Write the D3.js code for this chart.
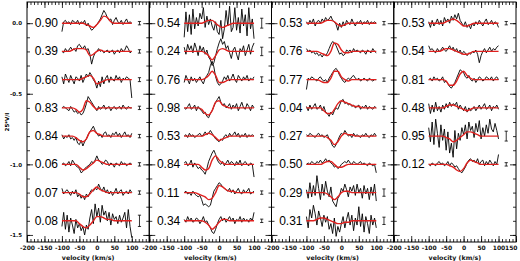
<!DOCTYPE html>
<html>
<head>
<meta charset="utf-8">
<script src="https://cdn.jsdelivr.net/npm/d3@7"></script>
<style>
  body { margin: 0; background: #fff; }
  svg { display: block; }
</style>
</head>
<body>
<svg id="chart" width="520" height="261"></svg>
<script>
// velocities of the observed profiles and of the model fits (km/s)
const vel = d3.range(-100, 101, 5);
const fitVel = d3.range(-100, 101, 10);

// profile values in units of 0.01 (25*V/I), one row per line
const labels1 = ["0.90", "0.39", "0.60", "0.83", "0.84", "0.06", "0.07", "0.08"];
const obs1 = [
  [-6,1,2,0,1,-1,2,1,0,2, -1,1,0,2,-2,0,-3,-5,-4,-2, -1,1,3,6,9,7,4,2,3,-1, 2,4,1,0,2,-1,1,3,0,1, 0],
  [0,-1,2,0,1,3,1,2,0,4, 5,3,2,4,1,2,-2,-9,-4,-1, 0,2,0,1,-1,0,1,-1,0,1, -2,0,1,-1,2,0,1,4,2,-1, 0],
  [2,-3,4,1,-2,3,0,-3,2,1, -1,3,-2,1,4,2,5,3,0,-2, -6,-1,-5,2,-3,1,3,-2,2,0, -1,3,0,2,-2,1,0,2,1,0, -13],
  [0,1,0,-1,-2,1,-1,-3,-2,-4, -3,-5,-4,-1,3,8,6,4,2,0, -2,1,-1,0,2,-1,0,1,-2,0, 1,-1,0,1,-1,2,0,-1,1,0, 0],
  [1,-2,0,-1,1,-2,-1,-3,-1,-5, -6,-3,-7,-4,-2,1,3,5,7,4, 2,0,1,-1,2,3,0,1,-1,2, 1,3,0,2,-1,1,3,0,1,-1, 2],
  [0,1,-1,0,2,-1,3,1,-1,-2, -3,-6,-5,-3,-2,-1,0,2,1,3, 6,3,2,0,1,3,2,-1,1,0, -2,1,0,-1,2,0,1,-1,0,1, 0],
  [3,-1,1,2,0,-2,1,-1,2,-3, -1,-4,-2,-5,-1,-3,0,2,1,3, 2,6,3,1,4,0,2,-1,1,-2, 0,3,-1,1,2,-2,0,1,-1,2, 0],
  [-4,6,-6,4,-8,2,-3,-9,1,-5, -2,-7,-4,-10,-3,-6,2,8,-2,12, 3,9,-1,11,4,7,0,6,-3,5, 1,3,-2,4,-1,2,6,-5,8,-4, -12]
];
const fit1 = [
  [0,0,0,0,0,0,0,-1,-2,-3,-1,2,5,4,1,0,0,0,0,0,0],
  [0,0,0,1,2,2,2,1,-3,-2,0,1,0,0,0,0,0,0,0,0,0],
  [0,0,0,0,0,0,1,2,3,1,-3,-2,-1,0,0,0,0,0,0,0,0],
  [0,0,0,0,-1,-3,-1,5,4,1,-1,0,0,0,0,0,0,0,0,0,0],
  [0,0,0,0,-1,-3,-4,-2,3,4,2,1,0,0,0,0,0,0,0,0,0],
  [0,0,0,0,0,-2,-4,-3,-1,1,3,2,1,0,0,0,0,0,0,0,0],
  [0,0,0,0,0,-1,-3,-3,-1,2,4,2,1,0,0,0,0,0,0,0,0],
  [0,0,0,0,0,-2,-4,-5,-3,0,3,3,2,1,1,0,0,0,0,0,0]
];
const err1 = [1.2, 1.2, 1.4, 1.2, 1.2, 1.2, 1.2, 4];

const labels2 = ["0.54", "0.24", "0.76", "0.98", "0.53", "0.84", "0.11", "0.34"];
const obs2 = [
  [-10,8,-6,6,-8,10,-4,4,-2,7, 3,11,-3,5,-1,3,-2,-5,1,-6, -8,2,-11,-4,9,-2,12,-6,-3,11, -5,4,-7,10,-2,6,-9,11,-4,3, -11],
  [3,-2,5,1,4,-1,6,2,-3,4, 0,3,-2,1,-4,-6,-10,-8,-3,2, 6,9,5,7,2,4,-1,-5,1,3, -2,-6,2,0,4,-3,1,5,-2,3, 6],
  [-2,3,0,-3,2,-1,1,-2,0,2, -1,-3,1,3,5,10,13,9,2,-2, -4,-3,-1,2,0,3,-1,1,4,0, -2,3,1,-1,2,0,3,-1,1,0, 2],
  [0,-1,1,3,-1,0,2,-2,1,-1, -2,-4,-3,-6,-7,-4,-2,1,4,6, 8,4,2,3,0,1,3,-1,2,0, 3,-2,1,4,0,-1,3,1,-2,2, 0],
  [0,1,-1,2,0,1,-1,0,1,2, 0,1,3,1,2,4,2,0,-2,-3, -4,-2,-3,0,1,-1,2,0,1,3, 0,2,-1,1,0,2,-1,1,0,1, 0],
  [1,2,-1,0,3,-2,1,-1,-3,-2, -4,-5,-7,-3,2,5,8,10,7,3, 1,0,2,-1,1,3,0,2,1,-1, 2,0,3,-1,1,2,0,-1,1,0, -9],
  [0,1,-1,0,-2,1,-1,-2,-3,-2, -5,-9,-8,-9,-10,-9,-4,1,3,5, 7,6,4,3,2,1,3,0,2,-1, 1,3,0,-1,2,0,1,3,-1,0, 1],
  [1,-1,3,0,2,-1,0,2,1,-2, 0,3,-1,0,-3,-5,-8,-9,-6,-2, 1,3,0,2,-1,1,3,0,2,-2, 1,0,3,-1,2,0,1,-1,2,0, 6]
];
const fit2 = [
  [0,0,0,0,0,0,1,2,2,0,-2,-3,-2,-1,0,0,0,0,0,0,0],
  [0,0,0,0,0,0,-1,-3,-6,-3,1,2,1,0,0,0,0,0,0,0,0],
  [0,0,0,0,0,0,1,3,6,3,-2,-2,-1,0,0,0,0,0,0,0,0],
  [0,0,0,0,0,-1,-4,-5,-2,4,5,2,1,0,0,0,0,0,0,0,0],
  [0,0,0,0,0,0,1,2,1,-1,-3,-2,-1,0,0,0,0,0,0,0,0],
  [0,0,0,0,0,-2,-4,-3,3,6,3,1,0,0,0,0,0,0,0,0,0],
  [0,0,0,0,-1,-2,-3,-5,-4,0,5,4,2,1,1,0,0,0,0,0,0],
  [0,0,0,0,0,0,-1,-3,-6,-4,-1,1,1,0,0,0,0,0,0,0,0]
];
const err2 = [3.5, 3, 2, 1.2, 1.2, 1.2, 1.2, 1.2];

const labels3 = ["0.53", "0.76", "0.77", "0.04", "0.27", "0.50", "0.29", "0.31"];
const obs3 = [
  [1,-1,2,0,3,-2,1,2,0,3, 1,4,2,3,5,2,1,-1,-5,0, -3,1,-2,2,0,-1,3,0,-2,1, 0,2,-1,1,0,2,-1,1,0,1, 0],
  [2,0,1,-1,0,-2,-1,-3,-2,-4, -2,-3,-1,2,5,7,6,4,1,-2, -1,-3,-2,1,0,1,-1,2,0,1, 0,-1,1,0,-2,1,0,-1,2,0, -1],
  [-7,1,0,2,1,0,-1,1,2,0, -1,0,-2,1,3,5,7,8,6,3, 1,-1,-2,0,1,0,2,3,1,0, 1,-1,0,1,0,-1,1,0,-1,0, 0],
  [1,-2,2,-1,1,3,-1,0,2,-2, 1,-3,-4,-6,-3,-5,-2,0,-1,2, 5,6,3,4,2,3,1,2,0,1, 2,-1,1,0,2,-1,1,0,-1,1, 0],
  [1,0,2,1,0,-1,1,2,0,1, -1,0,1,-2,-4,-7,-8,-6,-3,0, 2,1,4,2,0,1,-1,2,0,1, 0,-1,1,0,2,0,-1,1,0,2, 0],
  [0,1,0,2,1,0,2,1,3,1, 2,4,2,3,1,0,-2,-1,-3,-2, 0,1,2,1,3,1,0,2,1,0, 1,2,0,1,0,-1,1,0,-1,0, -6],
  [2,-4,7,-3,5,-2,12,3,-5,6, -2,8,1,-3,4,-6,-8,-10,-4,-2, 3,1,6,2,-3,4,1,5,-2,6, 0,3,-4,5,-1,3,-5,4,-2,6, -6],
  [3,-5,8,2,11,5,-3,7,2,-4, 4,-1,3,-6,-2,-9,2,-11,-4,-8, -2,3,-5,1,6,-3,4,-7,2,-3, 10,-4,5,-8,3,-2,-9,4,-3,2, -5]
];
const fit3 = [
  [0,0,0,0,0,1,2,2,1,-1,-2,-1,0,0,0,0,0,0,0,0,0],
  [0,0,0,0,-1,-2,-3,0,6,5,1,-1,-1,0,0,0,0,0,0,0,0],
  [0,0,0,0,-1,-2,-2,1,6,6,2,0,-1,0,0,0,0,0,0,0,0],
  [0,0,0,0,0,-2,-4,-4,-1,3,5,4,3,2,1,1,0,0,0,0,0],
  [0,0,0,0,0,0,-1,-3,-6,-4,0,2,1,1,0,0,0,0,0,0,0],
  [0,0,0,0,0,1,2,2,0,-2,-2,-1,0,0,0,0,0,0,0,0,0],
  [0,0,0,0,0,0,-1,-3,-5,-3,0,1,1,0,0,0,0,0,0,0,0],
  [0,0,0,1,2,2,1,0,-1,-2,-2,-1,-1,0,0,0,0,0,0,0,0]
];
const err3 = [1.2, 1.2, 1.2, 1.2, 1.2, 1.2, 2.6, 2.6];

const labels4 = ["0.53", "0.54", "0.81", "0.48", "0.95", "0.12"];
const obs4 = [
  [1,-3,2,-2,0,3,-1,2,-2,4, 1,3,0,5,2,6,3,7,2,0, -2,1,-3,-1,-4,0,-2,1,-1,2, 0,-2,1,3,-1,0,2,-1,1,0, -3],
  [4,1,2,0,-1,2,0,1,3,1, 0,2,4,1,3,0,2,-1,1,-2, 0,-1,-3,-1,-2,0,-1,1,-2,-8, -3,0,2,-1,1,3,0,2,1,3, 4],
  [0,1,-1,2,0,1,-1,0,2,-2, -1,-3,-5,-6,-4,-2,1,4,7,6, 5,2,1,3,0,-1,1,-2,0,2, 1,-1,0,2,1,0,2,-1,1,2, 0],
  [3,-4,2,-3,4,-2,1,-3,2,-1, 3,0,4,1,3,2,4,-1,2,0, -2,1,-3,0,-2,-1,1,-2,0,2, -1,1,3,-1,0,2,-2,1,0,2, -1],
  [6,-4,10,-6,12,2,-8,8,-3,5, -10,3,-12,-5,-15,4,-9,2,-3,6, 1,8,-2,10,4,7,-1,9,3,11, -2,6,0,8,2,12,5,3,9,4, -2],
  [0,-1,1,0,-1,1,2,0,1,-1, 0,2,-1,1,0,-2,-1,-3,-5,-6, -4,-2,1,3,4,2,3,1,4,0, 2,3,-1,2,0,3,1,-1,2,0, 7]
];
const fit4 = [
  [0,0,0,0,0,1,2,3,2,0,-2,-2,-1,0,0,0,0,0,0,0,0],
  [0,0,0,0,1,2,2,1,0,-1,-2,-2,-1,0,0,0,0,0,0,0,0],
  [0,0,0,0,0,-1,-4,-4,-1,4,6,3,1,0,0,0,0,0,0,0,0],
  [0,0,0,0,0,1,2,2,1,0,-1,-2,-1,0,0,0,0,0,0,0,0],
  [0,0,0,0,0,-1,-2,-4,-3,-1,1,3,3,2,1,0,0,0,0,0,0],
  [0,0,0,0,0,0,-1,-2,-4,-5,-3,1,3,2,1,0,0,0,0,0,0]
];
const err4 = [1.2, 1.2, 1.2, 1.2, 3.5, 1.2];

const rowStep = 0.2;   // vertical offset between profiles
const errVel = 122;    // where the error bars sit
const labelVel = -178; // where the row labels start

const panels = [
  { labels: labels1, obs: obs1, fit: fit1, err: err1 },
  { labels: labels2, obs: obs2, fit: fit2, err: err2 },
  { labels: labels3, obs: obs3, fit: fit3, err: err3 },
  { labels: labels4, obs: obs4, fit: fit4, err: err4 }
];

const svg = d3.select("#chart");
const plotLeft = 27, plotRight = 516, plotTop = 2, plotBottom = 242;
const pw = (plotRight - plotLeft) / 4;

const y = d3.scaleLinear().domain([-1.55, 0.15]).range([plotBottom, plotTop]);
const yMajor = [0, -0.5, -1.0, -1.5];
const yMinor = d3.range(0, -16, -1).map(d => d / 10);
const tickFont = "DejaVu Sans";

panels.forEach((p, pi) => {
  const x0 = plotLeft + pi * pw, x1 = x0 + pw;
  const x = d3.scaleLinear().domain([-200, 150]).range([x0, x1]);
  const g = svg.append("g");

  // -- axes, ticks point inward -- //
  const xMajorVals = d3.range(-200, 151, 50);
  g.append("g").attr("transform", `translate(0,${plotBottom})`)
    .call(d3.axisBottom(x).tickValues(d3.range(-200, 151, 10)).tickSize(-3).tickFormat(""));
  const xLab = g.append("g").attr("transform", `translate(0,${plotBottom})`)
    .call(d3.axisBottom(x).tickValues(xMajorVals).tickSizeInner(-6).tickSizeOuter(0).tickPadding(4)
      .tickFormat(d => (d === 150 && pi < 3) ? "" : String(d)))
    .attr("font-family", tickFont).attr("font-size", 6).attr("font-weight", "bold");
  // last label sits against the right border
  xLab.selectAll(".tick text").filter(d => d === 150).attr("text-anchor", "end").attr("dx", 1);

  g.append("g").attr("transform", `translate(0,${plotTop})`)
    .call(d3.axisTop(x).tickValues(d3.range(-200, 151, 10)).tickSize(-3).tickFormat(""));
  g.append("g").attr("transform", `translate(0,${plotTop})`)
    .call(d3.axisTop(x).tickValues(xMajorVals).tickSize(-6).tickFormat(""));

  g.append("g").attr("transform", `translate(${x0},0)`)
    .call(d3.axisLeft(y).tickValues(yMinor).tickSize(-3).tickFormat(""));
  g.append("g").attr("transform", `translate(${x0},0)`)
    .call(d3.axisLeft(y).tickValues(yMajor).tickSizeInner(-6).tickSizeOuter(0).tickPadding(5)
      .tickFormat(d => pi === 0 ? d.toFixed(1) : ""))
    .attr("font-family", tickFont).attr("font-size", 5.5).attr("font-weight", "bold");
  g.append("g").attr("transform", `translate(${x1},0)`)
    .call(d3.axisRight(y).tickValues(yMinor).tickSize(-3).tickFormat(""));
  g.append("g").attr("transform", `translate(${x1},0)`)
    .call(d3.axisRight(y).tickValues(yMajor).tickSize(-6).tickFormat(""));

  g.selectAll(".domain").remove();
  g.selectAll(".tick line").attr("stroke", "#000").attr("stroke-width", 0.8);
  g.selectAll(".tick text").attr("fill", "#111");

  g.append("rect")
    .attr("x", x0).attr("y", plotTop)
    .attr("width", pw).attr("height", plotBottom - plotTop)
    .attr("fill", "none").attr("stroke", "#000").attr("stroke-width", 1);

  g.append("text")
    .attr("x", (x0 + x1) / 2).attr("y", 259.5)
    .attr("text-anchor", "middle")
    .attr("font-family", tickFont).attr("font-size", 6.3).attr("font-weight", "bold")
    .attr("fill", "#111")
    .text("velocity (km/s)");

  // -- profiles -- //
  const obsLine = d3.line().x(d => x(d[0])).y(d => y(d[1]));
  const fitLine = d3.line().curve(d3.curveMonotoneX).x(d => x(d[0])).y(d => y(d[1]));

  p.obs.forEach((row, ri) => {
    const off = -rowStep * ri;

    g.append("path")
      .attr("d", obsLine(vel.map((v, i) => [v, off + row[i] / 100])))
      .attr("fill", "none").attr("stroke", "#000").attr("stroke-width", 0.9);

    g.append("path")
      .attr("d", fitLine(fitVel.map((v, i) => [v, off + p.fit[ri][i] / 100])))
      .attr("fill", "none").attr("stroke", "#e0201e").attr("stroke-width", 1.4);

    // error bar
    const e = p.err[ri] / 100, ex = x(errVel);
    g.append("line").attr("x1", ex).attr("x2", ex)
      .attr("y1", y(off - e)).attr("y2", y(off + e))
      .attr("stroke", "#000").attr("stroke-width", 0.8);
    [off - e, off + e].forEach(c => {
      g.append("line").attr("x1", ex - 1.6).attr("x2", ex + 1.6)
        .attr("y1", y(c)).attr("y2", y(c))
        .attr("stroke", "#000").attr("stroke-width", 0.8);
    });

    g.append("text")
      .attr("x", x(labelVel)).attr("y", y(off) + 4)
      .attr("font-family", "Liberation Sans").attr("font-size", 12)
      .attr("fill", "#000")
      .text(p.labels[ri]);
  });
});

svg.append("text")
  .attr("transform", `translate(9,${(plotTop + plotBottom) / 2}) rotate(-90)`)
  .attr("text-anchor", "middle")
  .attr("font-family", tickFont).attr("font-size", 5.5).attr("font-weight", "bold")
  .attr("fill", "#000")
  .text("25*V/I");
</script>
</body>
</html>
